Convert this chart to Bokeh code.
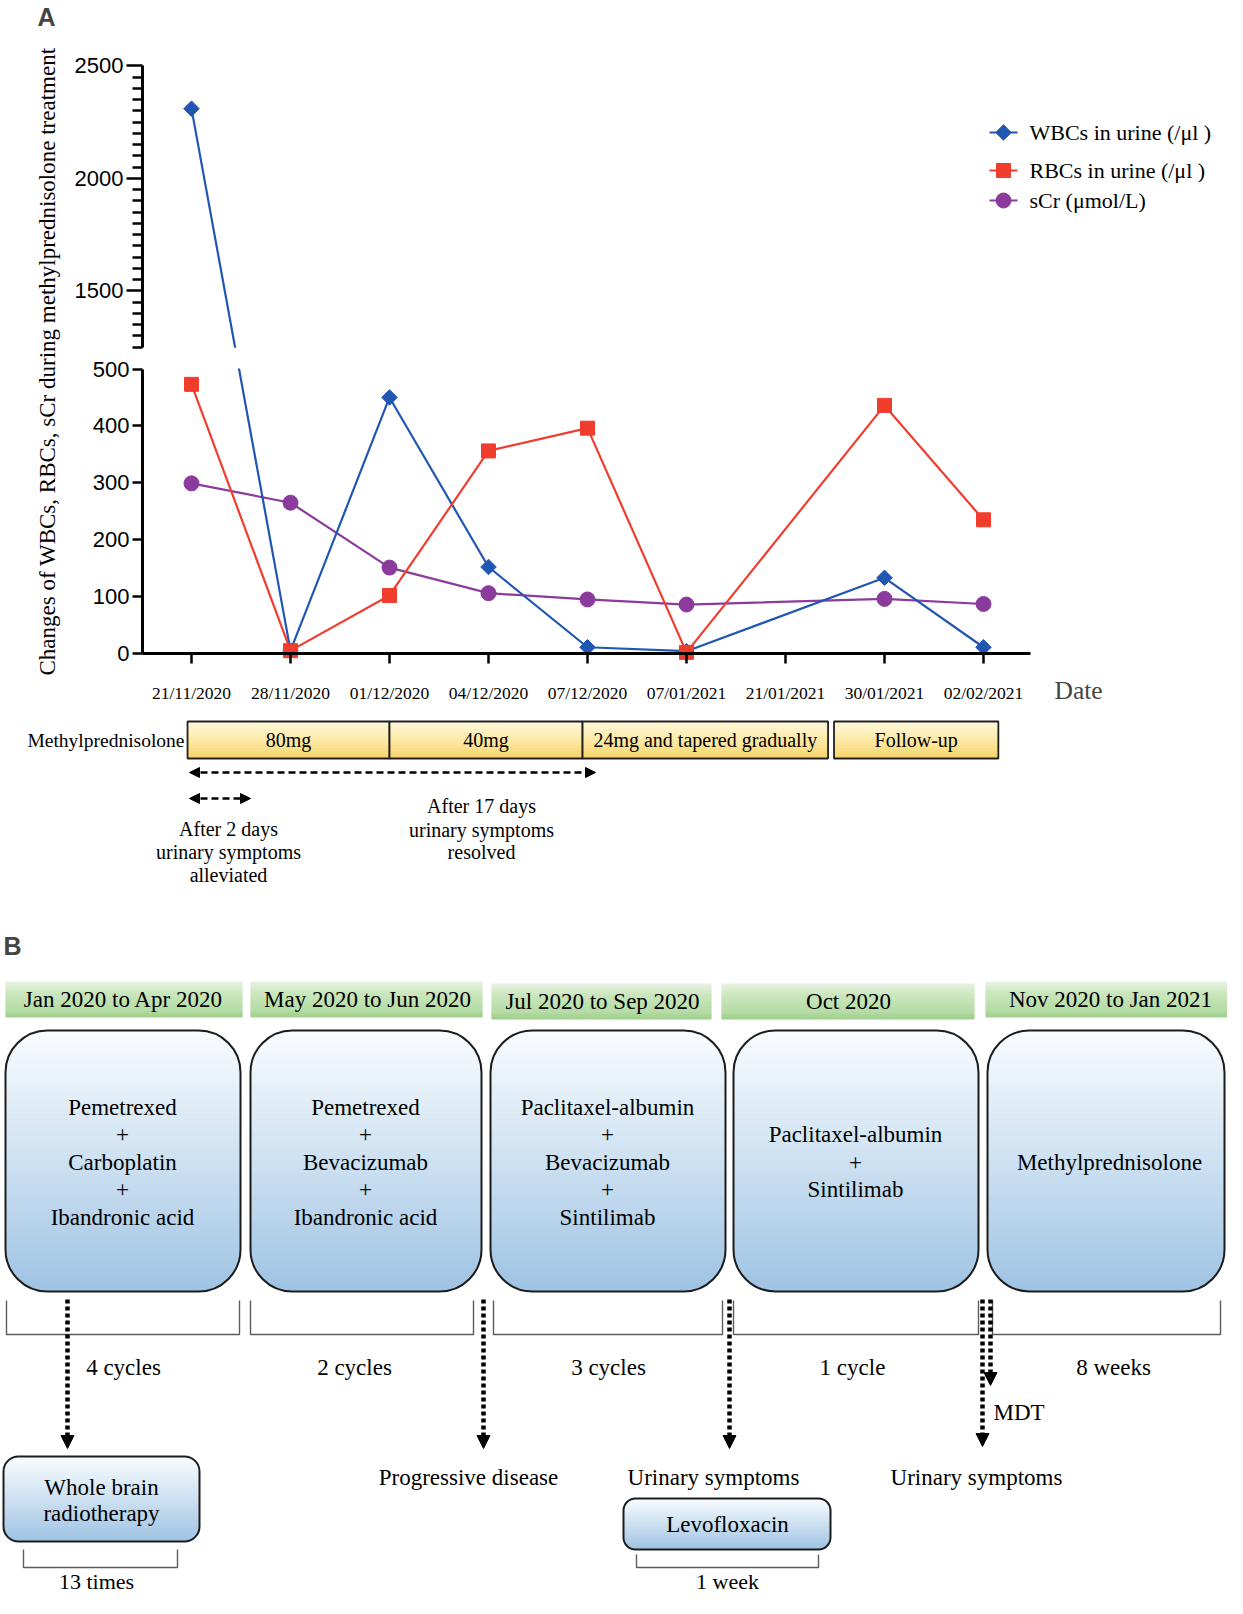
import math
import numpy as np
from bokeh.plotting import figure
from bokeh.models import LinearAxis, FixedTicker, Range1d, Label, Arrow, NormalHead
from bokeh.layouts import column
from bokeh.core.properties import value
from bokeh.embed import file_html
from bokeh.resources import INLINE

# ---------------- data (panel A) ----------------
dates = ["21/11/2020", "28/11/2020", "01/12/2020", "04/12/2020", "07/12/2020",
         "07/01/2021", "21/01/2021", "30/01/2021", "02/02/2021"]
wbc = [2310, 5, 450, 152, 11, 4, None, 133, 11]
rbc = [473, 5, 102, 356, 396, 2, None, 436, 235]
scr = [299, 265, 151, 106, 95, 86, None, 96, 87]
series_names = ["WBCs in urine (/μl )", "RBCs in urine (/μl )", "sCr (μmol/L)"]
lower_ticks = [0, 100, 200, 300, 400, 500]
upper_ticks = [1500, 2000, 2500]
upper_minor_step = 50
break_low, break_high, upper_top = 500, 1250, 2500

dose_labels = ["80mg", "40mg", "24mg and tapered gradually", "Follow-up"]
dose_spans = [(-0.04, 2.0), (2.0, 3.95), (3.95, 6.43), (6.49, 8.15)]

# ---------------- data (panel B) ----------------
periods = ["Jan 2020 to Apr 2020", "May 2020 to Jun 2020", "Jul 2020 to Sep 2020",
           "Oct 2020", "Nov 2020 to Jan 2021"]
regimens = [["Pemetrexed", "+", "Carboplatin", "+", "Ibandronic acid"],
            ["Pemetrexed", "+", "Bevacizumab", "+", "Ibandronic acid"],
            ["Paclitaxel-albumin", "+", "Bevacizumab", "+", "Sintilimab"],
            ["Paclitaxel-albumin", "+", "Sintilimab"],
            ["Methylprednisolone"]]
durations = ["4 cycles", "2 cycles", "3 cycles", "1 cycle", "8 weeks"]

SERIF = "Liberation Serif"
SANS = "Liberation Sans"
BLUE, RED, PURPLE = "#2157b3", "#f03d2e", "#8a3b9c"

W = 1227
HA, HB = 900, 698

# ---------------- panel A geometry ----------------
CAT0_PX, CAT_STEP_PX = 191.0, 99.0
ZERO_PX, PX_PER_UNIT = 653.0, 0.569
UPPER_RATIO = 0.3955
BREAK_GAP = 38.3


def XD(px):
    return (px - CAT0_PX) / CAT_STEP_PX


def YD(py):
    return (ZERO_PX - py) / PX_PER_UNIT


def ty(v):
    if v <= break_low:
        return float(v)
    return round(break_low + BREAK_GAP + (v - break_high) * UPPER_RATIO, 4)


def mix(c0, c1, t):
    a = [int(c0[i:i + 2], 16) for i in (1, 3, 5)]
    b = [int(c1[i:i + 2], 16) for i in (1, 3, 5)]
    return "#%02x%02x%02x" % tuple(int(round(a[j] + (b[j] - a[j]) * t)) for j in range(3))


def stop_color(stops, t):
    for (t0, c0), (t1, c1) in zip(stops[:-1], stops[1:]):
        if t <= t1:
            return mix(c0, c1, (t - t0) / (t1 - t0) if t1 > t0 else 0)
    return stops[-1][1]


def grad_strips(x0, x1, y0, y1, stops, r=0.0, fine=1.0, n_mid=30, down=True):
    lo, hi = min(y0, y1), max(y0, y1)
    if r > 0:
        e = list(np.arange(lo, lo + r, fine)) + list(np.linspace(lo + r, hi - r, n_mid + 1)) \
            + list(np.arange(hi - r, hi, fine)) + [hi]
    else:
        e = list(np.linspace(lo, hi, n_mid + 1))
    e = sorted(set(round(v, 3) for v in e))
    L, R, T, B, C = [], [], [], [], []
    for a, b in zip(e[:-1], e[1:]):
        m = (a + b) / 2
        d = 0.0
        if r > 0:
            if m < lo + r:
                d = lo + r - m
            elif m > hi - r:
                d = m - (hi - r)
        inset = r - math.sqrt(max(r * r - d * d, 0)) if d > 0 else 0.0
        frac = (m - lo) / (hi - lo)
        if not down:
            frac = 1 - frac
        L.append(x0 + inset)
        R.append(x1 - inset)
        T.append(max(a - 0.5, lo))
        B.append(min(b + 0.5, hi))
        C.append(stop_color(stops, frac))
    return L, R, T, B, C


BLUE_GRAD = [(0, "#f9fcfe"), (0.45, "#d2e4f3"), (1, "#9fc3e3")]
GREEN_GRAD = [(0, "#e8f5e2"), (0.35, "#c9e6bc"), (0.8, "#b5dca5"), (1, "#9ecf8c")]
YELLOW_GRAD = [(0, "#fff9dc"), (0.5, "#fde9a6"), (1, "#f7d265")]

# ================= PANEL A =================
pA = figure(width=W, height=HA, x_range=Range1d(XD(0), XD(W)),
            y_range=Range1d(YD(HA), YD(0)), x_axis_location=None, y_axis_location=None,
            toolbar_location=None, output_backend="svg", min_border=0, title=None)
pA.outline_line_color = None
pA.xgrid.visible = False
pA.ygrid.visible = False

specs = [(scr, PURPLE, "circle", 15, 0.0),
         (wbc, BLUE, "square", 11, math.pi / 4),
         (rbc, RED, "square", 14, 0.0)]
for vals, col, mk, sz, ang in specs:
    xs = [i for i, v in enumerate(vals) if v is not None]
    ys = [ty(v) for v in vals if v is not None]
    pA.line(xs, ys, line_color=col, line_width=2.2)

# break in the data lines across the axis gap
pA.quad(left=[XD(148)], right=[XD(1028)], bottom=[break_low + 1], top=[ty(break_high) - 1],
        fill_color="white", line_color=None)

for vals, col, mk, sz, ang in specs:
    xs = [i for i, v in enumerate(vals) if v is not None]
    ys = [ty(v) for v in vals if v is not None]
    pA.scatter(xs, ys, marker=mk, size=sz, angle=ang, fill_color=col, line_color=col)

# axes
xaxis = LinearAxis(fixed_location=0, bounds=(XD(142), XD(1030)),
                   ticker=FixedTicker(ticks=list(range(len(dates)))),
                   major_label_overrides={i: d for i, d in enumerate(dates)})
xaxis.major_tick_out = 10
xaxis.minor_tick_out = 0
xaxis.major_label_standoff = 19
xaxis.major_label_text_font = SERIF
xaxis.major_label_text_font_size = "17.5px"

yl = LinearAxis(fixed_location=XD(142), bounds=(0, break_low),
                ticker=FixedTicker(ticks=lower_ticks))
yl.major_tick_out = 10
yl.minor_tick_out = 0

upper_minor = [ty(v) for v in range(break_high, upper_top, upper_minor_step) if v % 500]
yu = LinearAxis(fixed_location=XD(142), bounds=(ty(break_high), ty(upper_top)),
                ticker=FixedTicker(ticks=[ty(v) for v in upper_ticks], minor_ticks=upper_minor),
                major_label_overrides={ty(v): str(v) for v in upper_ticks})
yu.major_tick_out = 16
yu.minor_tick_out = 10

for ax in (yl, yu):
    ax.major_label_text_font = SANS
    ax.major_label_text_font_size = "22px"
    ax.major_label_standoff = 3
for ax in (xaxis, yl, yu):
    ax.axis_line_width = 3
    ax.axis_line_color = "black"
    ax.major_tick_line_width = 2.5
    ax.minor_tick_line_width = 2.5
    ax.major_tick_in = 0
    ax.minor_tick_in = 0
    ax.major_label_text_color = "black"
pA.add_layout(xaxis, "below")
pA.add_layout(yl, "left")
pA.add_layout(yu, "left")

pA.add_layout(Label(x=XD(47), y=YD(361), angle=math.pi / 2, text_align="center",
                    text_baseline="middle",
                    text="Changes of WBCs, RBCs, sCr during methylprednisolone treatment",
                    text_font=SERIF, text_font_size="23px", text_color="black"))
pA.add_layout(Label(x=XD(1054), y=YD(690), text="Date", text_align="left",
                    text_baseline="middle", text_font=SERIF, text_font_size="25.5px"))
pA.add_layout(Label(x=XD(46), y=YD(16), text="A", text_align="center",
                    text_baseline="middle", text_font=SANS, text_font_style="bold",
                    text_font_size="25px"))

# legend (drawn by hand to match spacing)
leg_rows = [132, 170, 200]
leg_specs = [(BLUE, "square", 11, math.pi / 4), (RED, "square", 14, 0.0), (PURPLE, "circle", 15, 0.0)]
for name, ry, (col, mk, sz, ang) in zip(series_names, leg_rows, leg_specs):
    pA.line([XD(989), XD(1017)], [YD(ry)] * 2, line_color=col, line_width=2.2)
    pA.scatter([XD(1003)], [YD(ry)], marker=mk, size=sz, angle=ang, fill_color=col, line_color=col)
    pA.text([XD(1029)], [YD(ry)], text=[name], text_font=value(SERIF), text_font_size="22px",
            text_align="left", text_baseline="middle", text_color="black")

# methylprednisolone dosing bar
bar_top, bar_bot = YD(721), YD(758)
for (a, b), lab in zip(dose_spans, dose_labels):
    L, R, T, B, C = grad_strips(a, b, bar_top, bar_bot, YELLOW_GRAD, n_mid=14, down=False)
    pA.quad(left=L, right=R, top=T, bottom=B, fill_color=C, line_color=None)
    pA.quad(left=[a], right=[b], top=[bar_top], bottom=[bar_bot], fill_color=None,
            line_color="#202020", line_width=1.8)
    pA.text([(a + b) / 2], [(bar_top + bar_bot) / 2], text=[lab], text_font=value(SERIF),
            text_font_size="20px", text_align="center", text_baseline="middle")
pA.text([XD(184)], [(bar_top + bar_bot) / 2], text=["Methylprednisolone"], text_font=value(SERIF),
        text_font_size="19.5px", text_align="right", text_baseline="middle")

for xs_, xe_, yy in [(189, 595, 772), (189, 250, 798)]:
    pA.add_layout(Arrow(start=NormalHead(size=10, fill_color="black", line_color="black"),
                        end=NormalHead(size=10, fill_color="black", line_color="black"),
                        x_start=XD(xs_), y_start=YD(yy), x_end=XD(xe_), y_end=YD(yy),
                        line_width=2.5, line_dash="7 4", line_color="black"))

note_blocks = [(228, [828, 851, 874], ["After 2 days", "urinary symptoms", "alleviated"]),
               (481, [805, 829, 851], ["After 17 days", "urinary symptoms", "resolved"])]
for cx, ys_, lines in note_blocks:
    pA.text([XD(cx)] * len(lines), [YD(v) for v in ys_], text=lines, text_font=value(SERIF),
            text_font_size="20px", text_align="center", text_baseline="middle")

# ================= PANEL B =================
pB = figure(width=W, height=HB, x_range=Range1d(0, W), y_range=Range1d(900 + HB, 900),
            x_axis_location=None, y_axis_location=None, toolbar_location=None,
            output_backend="svg", min_border=0, title=None)
pB.outline_line_color = None
pB.xgrid.visible = False
pB.ygrid.visible = False

pB.add_layout(Label(x=12, y=945, text="B", text_align="center", text_baseline="middle",
                    text_font=SANS, text_font_style="bold", text_font_size="25px"))

header_x = [(5, 242), (250, 482), (491, 711), (721, 974), (985, 1227)]
header_y = [(981, 1017), (981, 1017), (983, 1019), (983, 1019), (981, 1017)]
box_x = [(5, 240), (250, 481), (490, 725), (733, 978), (987, 1224)]
box_y = (1030, 1291)
bracket_x = [(6, 239), (250, 473), (493, 722), (733, 978), (992, 1220)]
text_cx = [122, 365, 607, 855, 1109]
head_cx = [123, 367, 602, 848, 1110]
dur_x = [123, 354, 608, 852, 1113]
FS = "23px"


def text_b(xs, ys, txt, align="center", size=FS):
    pB.text(xs, ys, text=txt, text_font=value(SERIF), text_font_size=size,
            text_align=align, text_baseline="middle", text_color="black")


def rbox(x0, x1, y0, y1, r, n_mid=30):
    L, R, T, B, C = grad_strips(x0, x1, y0, y1, BLUE_GRAD, r=r, n_mid=n_mid)
    pB.quad(left=L, right=R, top=T, bottom=B, fill_color=C, line_color=None)
    pB.quad(left=[x0], right=[x1], top=[y0], bottom=[y1], fill_color=None,
            line_color="#1c1c1c", line_width=2, border_radius=r)


def bracket(x0, x1, y0, y1):
    pB.line([x0, x0, x1, x1], [y0, y1, y1, y0], line_color="#5c5c5c", line_width=1.4)


for i, per in enumerate(periods):
    hx0, hx1 = header_x[i]
    hy0, hy1 = header_y[i]
    L, R, T, B, C = grad_strips(hx0, hx1, hy0, hy1, GREEN_GRAD, n_mid=18)
    pB.quad(left=L, right=R, top=T, bottom=B, fill_color=C, line_color=None)
    text_b([head_cx[i]], [(hy0 + hy1) / 2], [per])

    bx0, bx1 = box_x[i]
    rbox(bx0, bx1, box_y[0], box_y[1], 42)
    lines = regimens[i]
    n = len(lines)
    cy = 1161.5
    text_b([text_cx[i]] * n, [cy + (k - (n - 1) / 2) * 27.5 for k in range(n)], lines)

    brx0, brx1 = bracket_x[i]
    bracket(brx0, brx1, 1300, 1334)
    text_b([dur_x[i]], [1367], [durations[i]])

# dotted arrows
for ax_, y_end in [(67, 1448), (483, 1448), (729, 1448), (982, 1446), (990, 1385)]:
    pB.add_layout(Arrow(end=NormalHead(size=13, fill_color="black", line_color="black"),
                        start=None, x_start=ax_, y_start=1299, x_end=ax_, y_end=y_end,
                        line_width=4.5, line_dash="4 3", line_color="black"))
text_b([993], [1412], ["MDT"], align="left")
text_b([468, 713, 976], [1477, 1477, 1477],
       ["Progressive disease", "Urinary symptoms", "Urinary symptoms"])

# whole brain radiotherapy
rbox(3, 199, 1456, 1541, 15, n_mid=20)
text_b([101, 101], [1487, 1513], ["Whole brain", "radiotherapy"])
bracket(23, 177, 1549, 1567)
text_b([96], [1581], ["13 times"], size="22px")

# levofloxacin
rbox(623, 830, 1498, 1549, 12, n_mid=14)
text_b([727], [1524], ["Levofloxacin"])
bracket(636, 818, 1554, 1567)
text_b([727], [1581], ["1 week"], size="22px")

layout = column(pA, pB, spacing=0)
open("out.html", "w").write(file_html(layout, INLINE))
